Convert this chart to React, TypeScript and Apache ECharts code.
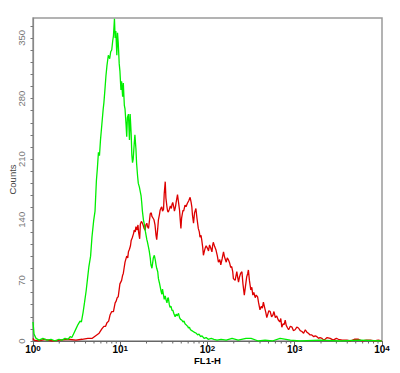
import React, { useEffect, useRef } from "react";
import * as echarts from "echarts";

// Histogram channels (1024 channels over 4 decades) and event counts
const greenChannels = [
  0, 3, 9, 18, 29, 41, 53, 65, 76, 85, 94, 103, 109, 114, 120, 126, 132, 138, 142, 147,
  151, 156, 160, 164, 169, 173, 178, 182, 186, 189, 192, 195, 198, 202, 206, 208, 211, 214, 217, 221,
  225, 228, 231, 234, 236, 239, 241, 243, 246, 248, 250, 253, 255, 258, 260, 263, 265, 268, 270, 273,
  275, 277, 280, 283, 285, 288, 290, 292, 294, 297, 299, 302, 304, 307, 309, 312, 314, 317, 319, 321,
  324, 327, 330, 334, 336, 339, 341, 344, 346, 349, 351, 353, 356, 359, 361, 363, 366, 368, 371, 374,
  376, 378, 380, 383, 385, 388, 390, 393, 395, 397, 400, 402, 405, 408, 410, 413, 415, 417, 420, 423,
  427, 430, 433, 437, 440, 443, 446, 451, 454, 456, 459, 462, 466, 470, 474, 479, 483, 487, 492, 496,
  502, 508, 514, 523, 531, 540, 552, 567, 584, 602, 625, 640, 661, 681, 702, 725, 755, 784, 842, 901,
  960, 1023,
];
const greenCounts = [
  22, 8, 3, 1, 3, 1, 2, 0, 2, 1, 3, 2, 5, 4, 9, 14, 19, 23, 22, 33,
  44, 58, 72, 86, 98, 120, 139, 150, 185, 200, 218, 214, 232, 250, 268, 275, 290, 306, 318, 330,
  326, 334, 336, 347, 352, 372, 350, 358, 330, 356, 345, 320, 312, 290, 300, 282, 298, 272, 268, 250,
  236, 258, 262, 232, 262, 240, 215, 206, 210, 228, 238, 222, 205, 190, 182, 178, 178, 168, 160, 150,
  140, 134, 126, 117, 114, 108, 104, 96, 88, 84, 90, 96, 99, 93, 88, 84, 80, 72, 67, 61,
  57, 54, 60, 53, 48, 52, 48, 44, 49, 50, 42, 39, 40, 35, 36, 32, 30, 28, 31, 29,
  32, 27, 25, 24, 22, 23, 20, 18, 17, 15, 16, 13, 12, 11, 10, 9, 7, 8, 5, 6,
  3, 4, 2, 3, 2, 1, 2, 1, 3, 1, 3, 3, 0, 1, 0, 3, 1, 0, 1, 0,
  1, 0,
];

const redChannels = [
  0, 3, 15, 35, 56, 79, 103, 126, 144, 161, 173, 187, 194, 202, 208, 213, 217, 222, 226, 231,
  236, 241, 244, 247, 250, 253, 255, 260, 263, 265, 268, 270, 275, 278, 280, 283, 286, 288, 291, 295,
  297, 300, 302, 305, 308, 310, 313, 315, 318, 320, 323, 326, 329, 331, 334, 336, 339, 342, 344, 347,
  349, 352, 355, 358, 361, 363, 366, 368, 371, 373, 376, 378, 380, 383, 385, 388, 390, 393, 395, 397,
  400, 403, 406, 408, 410, 413, 415, 418, 420, 424, 427, 430, 432, 434, 436, 440, 442, 446, 449, 453,
  457, 461, 464, 466, 468, 471, 474, 478, 481, 485, 488, 490, 493, 495, 498, 500, 503, 505, 508, 512,
  515, 518, 521, 525, 527, 529, 533, 537, 541, 544, 548, 551, 555, 559, 562, 567, 570, 573, 577, 580,
  583, 586, 588, 593, 598, 600, 603, 606, 609, 613, 616, 620, 623, 627, 630, 632, 635, 639, 642, 645,
  648, 652, 655, 659, 662, 666, 670, 673, 676, 680, 683, 686, 689, 692, 696, 700, 704, 707, 711, 715,
  720, 724, 727, 730, 734, 737, 740, 743, 747, 750, 755, 760, 764, 769, 774, 779, 784, 789, 794, 799,
  804, 808, 813, 818, 824, 828, 833, 838, 842, 848, 853, 857, 863, 872, 881, 890, 896, 907, 921, 931,
  943, 955, 966, 978, 990, 1001, 1013, 1023,
];
const redCounts = [
  3, 1, 0, 2, 0, 1, 2, 1, 2, 3, 3, 7, 9, 14, 17, 17, 21, 23, 30, 34,
  34, 44, 46, 50, 51, 60, 66, 70, 76, 78, 86, 91, 98, 96, 103, 106, 110, 116, 119, 124,
  128, 126, 132, 128, 134, 125, 118, 135, 138, 137, 134, 130, 128, 134, 136, 132, 130, 140, 147, 148,
  144, 142, 140, 134, 122, 117, 130, 140, 146, 151, 154, 155, 150, 152, 170, 184, 165, 155, 150, 149,
  152, 156, 153, 158, 160, 155, 150, 155, 160, 169, 160, 151, 140, 130, 142, 151, 150, 157, 155, 159,
  162, 166, 160, 155, 145, 136, 148, 153, 142, 130, 126, 120, 122, 117, 108, 99, 104, 107, 110, 107,
  104, 111, 108, 103, 110, 114, 109, 105, 98, 91, 94, 88, 95, 103, 97, 91, 96, 94, 90, 85,
  86, 80, 72, 70, 80, 75, 68, 74, 78, 80, 66, 53, 62, 74, 78, 82, 70, 59, 62, 53,
  56, 50, 53, 51, 44, 36, 40, 38, 45, 38, 33, 27, 31, 35, 34, 28, 30, 34, 27, 29,
  24, 22, 26, 16, 20, 19, 24, 18, 15, 13, 17, 16, 12, 13, 16, 15, 12, 11, 9, 13,
  10, 9, 7, 7, 5, 6, 5, 3, 4, 3, 1, 2, 4, 3, 1, 3, 2, 1, 1, 0,
  2, 2, 0, 1, 1, 0, 1, 0,
];

const CHANNELS_PER_DECADE = 256;
const xMin = 1;
const xMax = 10000;
const yMax = 373;
const yLabelValues = [0, 70, 140, 210, 280, 350];
const xMinorTickValues = [
  2, 3, 4, 5, 6, 7, 8, 9,
  20, 30, 40, 50, 60, 70, 80, 90,
  200, 300, 400, 500, 600, 700, 800, 900,
  2000, 3000, 4000, 5000, 6000, 7000, 8000, 9000,
];

const toFL1H = (ch: number) => Math.pow(10, ch / CHANNELS_PER_DECADE);
const toPairs = (chs: number[], counts: number[]) => chs.map((c, i) => [toFL1H(c), counts[i]]);

export default function App() {
  const ref = useRef<HTMLDivElement>(null);
  useEffect(() => {
    if (!ref.current) return;
    const chart = echarts.init(ref.current, undefined, { renderer: "svg" });
    chart.setOption({
      animation: false,
      backgroundColor: "#ffffff",
      grid: {
        left: 33,
        right: 18,
        top: 18,
        bottom: 32,
        show: true,
        borderColor: "#9a9a9a",
        borderWidth: 1.5,
        containLabel: false,
        outerBoundsMode: "none",
      },
      xAxis: {
        type: "log",
        logBase: 10,
        min: xMin,
        max: xMax,
        name: "FL1-H",
        nameLocation: "middle",
        nameGap: 14.5,
        nameMoveOverlap: false,
        nameTextStyle: { fontSize: 9.5, lineHeight: 10, fontWeight: "bold", color: "#000", fontFamily: "Liberation Sans, Arial, sans-serif" },
        axisLine: { show: true, lineStyle: { color: "#666", width: 1.2 } },
        axisTick: { show: true, length: 4, lineStyle: { color: "#666" } },
        splitLine: { show: false },
        axisLabel: {
          margin: 3,
          formatter: (v: number) => `{b|10}{s|${Math.round(Math.log10(v))}}`,
          rich: {
            b: { fontSize: 10, fontWeight: "bold", color: "#000", lineHeight: 11, fontFamily: "Liberation Sans, Arial, sans-serif" },
            s: { fontSize: 8, fontWeight: "bold", color: "#000", lineHeight: 6, verticalAlign: "top", fontFamily: "Liberation Sans, Arial, sans-serif" },
          },
        },
      },
      yAxis: {
        type: "value",
        min: 0,
        max: yMax,
        interval: 14,
        name: "Counts",
        nameLocation: "middle",
        nameGap: 16,
        nameRotate: 90,
        nameMoveOverlap: false,
        nameTextStyle: { fontSize: 9.5, color: "#444", fontFamily: "Liberation Sans, Arial, sans-serif" },
        axisLine: { show: true, lineStyle: { color: "#888", width: 1.2 } },
        axisTick: { show: true, length: 2.5, lineStyle: { color: "#777" } },
        splitLine: { show: false },
        axisLabel: {
          rotate: 90,
          margin: 7,
          fontSize: 9.5,
          color: "#777",
          fontFamily: "Liberation Sans, Arial, sans-serif",
          showMaxLabel: false,
          formatter: (v: number) => (yLabelValues.indexOf(v) >= 0 ? String(v) : ""),
        },
      },
      series: [
        {
          type: "line",
          data: toPairs(redChannels, redCounts),
          showSymbol: false,
          symbol: "none",
          lineStyle: { color: "#dd0000", width: 1.3 },
          z: 2,
        },
        {
          type: "line",
          data: toPairs(greenChannels, greenCounts),
          showSymbol: false,
          symbol: "none",
          lineStyle: { color: "#00ee00", width: 1.3 },
          z: 3,
        },
        {
          type: "custom",
          clip: false,
          silent: true,
          data: xMinorTickValues.map((v) => [v, 0]),
          renderItem: (params: any, api: any) => {
            const p = api.coord([api.value(0), 0]);
            return {
              type: "line",
              shape: { x1: p[0], y1: p[1], x2: p[0], y2: p[1] + 2.5 },
              style: { stroke: "#666", lineWidth: 1 },
            };
          },
          z: 1,
        },
      ],
    });
    return () => chart.dispose();
  }, []);
  return (
    <div
      ref={ref}
      style={{ position: "fixed", left: 0, top: 0, width: 400, height: 373, background: "#fff" }}
    />
  );
}
